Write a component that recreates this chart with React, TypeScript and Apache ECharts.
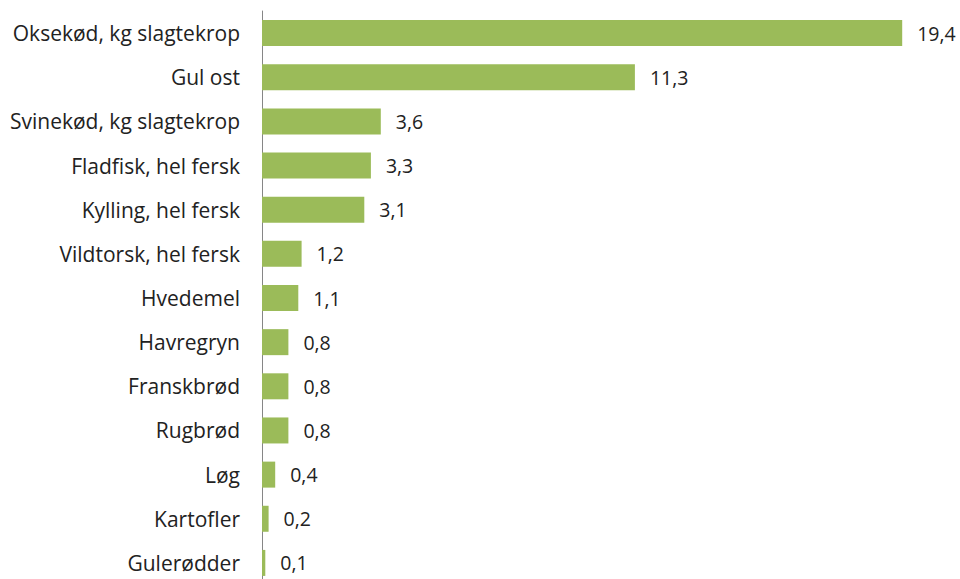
import React, { useEffect, useRef } from "react";
import * as echarts from "echarts";

const categories = [
  "Oksekød, kg slagtekrop",
  "Gul ost",
  "Svinekød, kg slagtekrop",
  "Fladfisk, hel fersk",
  "Kylling, hel fersk",
  "Vildtorsk, hel fersk",
  "Hvedemel",
  "Havregryn",
  "Franskbrød",
  "Rugbrød",
  "Løg",
  "Kartofler",
  "Gulerødder",
];

const values = [19.4, 11.3, 3.6, 3.3, 3.1, 1.2, 1.1, 0.8, 0.8, 0.8, 0.4, 0.2, 0.1];

export default function App() {
  const ref = useRef<HTMLDivElement>(null);
  useEffect(() => {
    if (!ref.current) return;
    const chart = echarts.init(ref.current, null, { renderer: "svg" });
    chart.setOption({
      animation: false,
      backgroundColor: "#ffffff",
      grid: { left: 262, top: 11, width: 660, height: 574, containLabel: false },
      xAxis: {
        type: "value",
        min: 0,
        max: 20,
        show: false,
      },
      yAxis: {
        type: "category",
        data: categories,
        inverse: true,
        axisLine: { show: true, lineStyle: { color: "#868686", width: 1 } },
        axisTick: { show: false },
        axisLabel: {
          margin: 22,
          fontFamily: "Open Sans",
          fontSize: 21,
          color: "#222222",
        },
      },
      series: [
        {
          type: "bar",
          data: values,
          barWidth: 26,
          itemStyle: { color: "#9BBB59" },
          label: {
            show: true,
            position: "right",
            distance: 15,
            fontFamily: "Open Sans",
            fontSize: 19.5,
            color: "#222222",
            formatter: (p: any) => String(p.value).replace(".", ","),
          },
        },
      ],
    });
    return () => chart.dispose();
  }, []);
  return (
    <div
      ref={ref}
      style={{ position: "fixed", left: 0, top: 0, width: 960, height: 600 }}
    />
  );
}
